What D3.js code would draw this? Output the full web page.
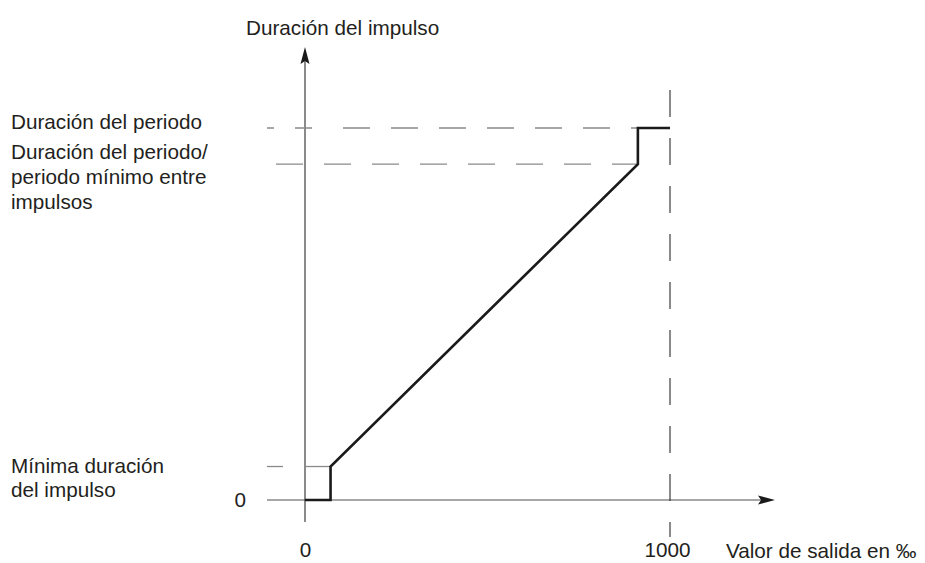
<!DOCTYPE html>
<html>
<head>
<meta charset="utf-8">
<script src="https://cdn.jsdelivr.net/npm/d3@7/dist/d3.min.js"></script>
<style>
  html, body { margin: 0; padding: 0; background: #fff; }
  svg { display: block; }
  text { font-family: "Liberation Sans", Arial, Helvetica, sans-serif; fill: #231f20; font-size: 20.7px; }
</style>
</head>
<body>
<svg id="chart" width="925" height="563"></svg>
<script>
// Output value (‰) versus pulse duration characteristic
const outputValues   = [0, 70, 70, 912, 912, 1000];
const pulseDurations = [0, 0, 9, 90.3, 100, 100];

// Reference levels on the duration axis
const levelMinPulse   = 9;     // minimum pulse duration
const levelPeriodGap  = 90.3;  // period duration minus minimum gap between pulses
const levelPeriod     = 100;   // period duration

// Tick labels
const xTickValues = [0, 1000];
const xTickLabels = ["0", "1000"];
const yTickValues = [0];
const yTickLabels = ["0"];

const xTitle = "Valor de salida en ‰";
const yTitle = "Duración del impulso";
const periodLabel = ["Duración del periodo"];
const periodGapLabel = ["Duración del periodo/", "periodo mínimo entre", "impulsos"];
const minPulseLabel = ["Mínima duración", "del impulso"];

const svg = d3.select("#chart");

const x = d3.scaleLinear().domain([0, 1000]).range([305, 670]);
const y = d3.scaleLinear().domain([0, 100]).range([500, 128]);

const grey = "#8a8a8a";
const dark = "#2b2b2b";
const fontSize = "20.7px";

// x axis line with arrow
const xAxisStart = x(0) - 38, xAxisTip = x(1000) + 105;
svg.append("line")
  .attr("x1", xAxisStart).attr("x2", xAxisTip - 14)
  .attr("y1", y(0)).attr("y2", y(0))
  .attr("stroke", grey).attr("stroke-width", 1.3);
svg.append("path")
  .attr("d", `M${xAxisTip},${y(0)} L${xAxisTip - 17},${y(0) - 4.5} L${xAxisTip - 14},${y(0)} L${xAxisTip - 17},${y(0) + 4.5} Z`)
  .attr("fill", "#1a1a1a");

// y axis line with arrow
const yAxisTip = y(100) - 81, yAxisBottom = y(0) + 22;
svg.append("line")
  .attr("x1", x(0)).attr("x2", x(0))
  .attr("y1", yAxisBottom).attr("y2", yAxisTip + 14)
  .attr("stroke", dark).attr("stroke-width", 1.1);
svg.append("path")
  .attr("d", `M${x(0)},${yAxisTip} L${x(0) - 4.5},${yAxisTip + 17} L${x(0)},${yAxisTip + 14} L${x(0) + 4.5},${yAxisTip + 17} Z`)
  .attr("fill", "#1a1a1a");

// dashed reference line at the period level
svg.append("line")
  .attr("x1", x(0) - 38).attr("x2", x(912))
  .attr("y1", y(levelPeriod)).attr("y2", y(levelPeriod))
  .attr("stroke", grey).attr("stroke-width", 1.3)
  .attr("stroke-dasharray", "7,21,17,31,27,21,27,21,27,21,27,21,27,21,27,21,27,21,27,400");
// dashed reference line at period minus minimum gap
svg.append("line")
  .attr("x1", x(0) - 29).attr("x2", x(912))
  .attr("y1", y(levelPeriodGap)).attr("y2", y(levelPeriodGap))
  .attr("stroke", grey).attr("stroke-width", 1.3)
  .attr("stroke-dasharray", "27,21");

// minimum pulse level: short tick and thin guide to the step
svg.append("line")
  .attr("x1", x(0) - 38).attr("x2", x(0) - 22)
  .attr("y1", y(levelMinPulse)).attr("y2", y(levelMinPulse))
  .attr("stroke", grey).attr("stroke-width", 1.3);
svg.append("line")
  .attr("x1", x(0)).attr("x2", x(70))
  .attr("y1", y(levelMinPulse)).attr("y2", y(levelMinPulse))
  .attr("stroke", grey).attr("stroke-width", 1.3);

// vertical dashed line at full output
svg.append("line")
  .attr("x1", x(1000)).attr("x2", x(1000))
  .attr("y1", y(100) - 38).attr("y2", y(0) + 37)
  .attr("stroke", dark).attr("stroke-width", 1.1)
  .attr("stroke-dasharray", "27,21");

// characteristic curve
const pts = outputValues.map((v, i) => [v, pulseDurations[i]]);
svg.append("path")
  .datum(pts)
  .attr("d", d3.line().x(d => x(d[0])).y(d => y(d[1])))
  .attr("fill", "none")
  .attr("stroke", "#1a1a1a")
  .attr("stroke-width", 2.6)
  .attr("stroke-linejoin", "miter");

// x tick labels via axis generator (domain and tick lines hidden)
const xAxis = d3.axisBottom(x)
  .tickValues(xTickValues)
  .tickFormat((d, i) => xTickLabels[i])
  .tickSize(0)
  .tickPadding(42);
const gx = svg.append("g").attr("transform", `translate(0,${y(0)})`).call(xAxis);
gx.select(".domain").remove();
gx.selectAll("text")
  .attr("font-size", null)
  .attr("font-family", null)
  .style("font-size", fontSize)
  .attr("fill", "#231f20")
  .attr("dx", (d, i) => i === 1 ? -3 : 0);

// y tick label
const yAxis = d3.axisLeft(y)
  .tickValues(yTickValues)
  .tickFormat((d, i) => yTickLabels[i])
  .tickSize(0)
  .tickPadding(59);
const gy = svg.append("g").attr("transform", `translate(${x(0)},0)`).call(yAxis);
gy.select(".domain").remove();
gy.selectAll("text")
  .attr("font-size", null)
  .attr("font-family", null)
  .style("font-size", fontSize)
  .attr("fill", "#231f20");

// axis titles
svg.append("text").attr("x", 246).attr("y", 35).text(yTitle);
svg.append("text").attr("x", 726).attr("y", 558).text(xTitle);

// level labels
function block(lines, x0, y0, lh) {
  const t = svg.append("text").attr("x", x0).attr("y", y0);
  lines.forEach((s, i) => {
    t.append("tspan").attr("x", x0).attr("dy", i === 0 ? 0 : lh).text(s);
  });
}
block(periodLabel, 11, y(levelPeriod) + 1, 25);
block(periodGapLabel, 11, 159, 25);
block(minPulseLabel, 11, 473, 24);
</script>
</body>
</html>
